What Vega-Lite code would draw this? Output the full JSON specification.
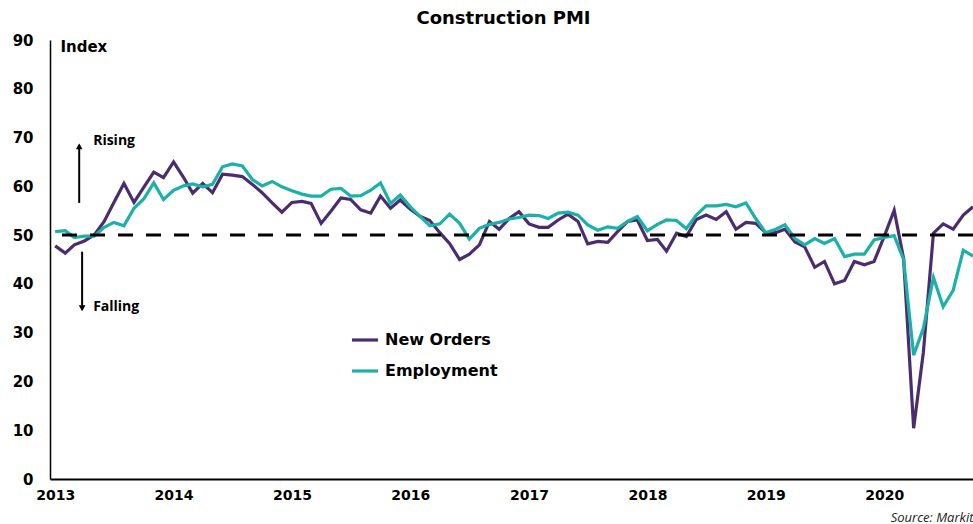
{
  "$schema": "https://vega.github.io/schema/vega-lite/v6.json",
  "width": 923,
  "height": 439,
  "autosize": {"type": "none"},
  "padding": {"left": 50, "top": 40, "right": 0, "bottom": 45},
  "background": "white",
  "title": {"text": "Construction PMI", "font": "DejaVu Sans", "fontSize": 18, "fontWeight": "bold", "color": "black", "anchor": "middle", "offset": 12, "dx": -8, "dy": 7},
  "config": {
    "view": {"stroke": null},
    "axis": {"grid": false, "domainColor": "black", "labelColor": "black"},
    "axisX": {"ticks": true, "tickSize": 0, "labelPadding": 9, "labelFlush": false, "labelFont": "DejaVu Sans", "labelFontSize": 14, "labelFontWeight": "bold", "domainWidth": 2, "titleAnchor": "end", "titleFont": "Open Sans", "titleFontStyle": "italic", "titleFontWeight": "normal", "titleFontSize": 13, "titleColor": "#222", "titlePadding": 9},
    "axisY": {"ticks": true, "tickSize": 0, "labelPadding": 17, "labelFont": "DejaVu Sans", "labelFontSize": 15, "labelFontWeight": "bold", "domainWidth": 1.5}
  },
  "layer": [
    {
      "data": {"values": [
        {"date":"2013-01-01","New Orders":47.8,"Employment":50.7},
        {"date":"2013-02-01","New Orders":46.3,"Employment":50.9},
        {"date":"2013-03-01","New Orders":48.0,"Employment":49.5},
        {"date":"2013-04-01","New Orders":48.8,"Employment":49.8},
        {"date":"2013-05-01","New Orders":50.0,"Employment":49.8},
        {"date":"2013-06-01","New Orders":52.8,"Employment":51.6},
        {"date":"2013-07-01","New Orders":56.7,"Employment":52.6},
        {"date":"2013-08-01","New Orders":60.6,"Employment":51.9},
        {"date":"2013-09-01","New Orders":56.7,"Employment":55.5},
        {"date":"2013-10-01","New Orders":59.8,"Employment":57.4},
        {"date":"2013-11-01","New Orders":62.9,"Employment":60.7},
        {"date":"2013-12-01","New Orders":61.8,"Employment":57.3},
        {"date":"2014-01-01","New Orders":65.0,"Employment":59.2},
        {"date":"2014-02-01","New Orders":61.8,"Employment":60.1},
        {"date":"2014-03-01","New Orders":58.6,"Employment":60.5},
        {"date":"2014-04-01","New Orders":60.6,"Employment":59.9},
        {"date":"2014-05-01","New Orders":58.7,"Employment":60.4},
        {"date":"2014-06-01","New Orders":62.5,"Employment":64.0},
        {"date":"2014-07-01","New Orders":62.3,"Employment":64.6},
        {"date":"2014-08-01","New Orders":62.0,"Employment":64.2},
        {"date":"2014-09-01","New Orders":60.4,"Employment":61.4},
        {"date":"2014-10-01","New Orders":58.7,"Employment":60.1},
        {"date":"2014-11-01","New Orders":56.6,"Employment":61.0},
        {"date":"2014-12-01","New Orders":54.7,"Employment":59.9},
        {"date":"2015-01-01","New Orders":56.7,"Employment":59.1},
        {"date":"2015-02-01","New Orders":56.9,"Employment":58.4},
        {"date":"2015-03-01","New Orders":56.5,"Employment":58.0},
        {"date":"2015-04-01","New Orders":52.4,"Employment":58.0},
        {"date":"2015-05-01","New Orders":54.9,"Employment":59.4},
        {"date":"2015-06-01","New Orders":57.6,"Employment":59.6},
        {"date":"2015-07-01","New Orders":57.3,"Employment":58.0},
        {"date":"2015-08-01","New Orders":55.2,"Employment":58.1},
        {"date":"2015-09-01","New Orders":54.5,"Employment":59.2},
        {"date":"2015-10-01","New Orders":58.0,"Employment":60.7},
        {"date":"2015-11-01","New Orders":55.5,"Employment":56.5},
        {"date":"2015-12-01","New Orders":57.2,"Employment":58.2},
        {"date":"2016-01-01","New Orders":55.3,"Employment":55.8},
        {"date":"2016-02-01","New Orders":53.8,"Employment":53.8},
        {"date":"2016-03-01","New Orders":53.0,"Employment":51.9},
        {"date":"2016-04-01","New Orders":50.5,"Employment":52.3},
        {"date":"2016-05-01","New Orders":48.3,"Employment":54.3},
        {"date":"2016-06-01","New Orders":45.0,"Employment":52.4},
        {"date":"2016-07-01","New Orders":46.1,"Employment":49.2},
        {"date":"2016-08-01","New Orders":48.0,"Employment":51.4},
        {"date":"2016-09-01","New Orders":52.8,"Employment":52.2},
        {"date":"2016-10-01","New Orders":51.2,"Employment":52.6},
        {"date":"2016-11-01","New Orders":53.4,"Employment":53.3},
        {"date":"2016-12-01","New Orders":54.8,"Employment":53.6},
        {"date":"2017-01-01","New Orders":52.3,"Employment":54.1},
        {"date":"2017-02-01","New Orders":51.6,"Employment":54.0},
        {"date":"2017-03-01","New Orders":51.6,"Employment":53.4},
        {"date":"2017-04-01","New Orders":53.1,"Employment":54.5},
        {"date":"2017-05-01","New Orders":54.3,"Employment":54.7},
        {"date":"2017-06-01","New Orders":52.8,"Employment":54.1},
        {"date":"2017-07-01","New Orders":48.2,"Employment":52.1},
        {"date":"2017-08-01","New Orders":48.7,"Employment":51.0},
        {"date":"2017-09-01","New Orders":48.5,"Employment":51.7},
        {"date":"2017-10-01","New Orders":50.7,"Employment":51.4},
        {"date":"2017-11-01","New Orders":52.8,"Employment":52.8},
        {"date":"2017-12-01","New Orders":53.1,"Employment":53.8},
        {"date":"2018-01-01","New Orders":48.9,"Employment":50.9},
        {"date":"2018-02-01","New Orders":49.1,"Employment":52.2},
        {"date":"2018-03-01","New Orders":46.7,"Employment":53.1},
        {"date":"2018-04-01","New Orders":50.4,"Employment":53.0},
        {"date":"2018-05-01","New Orders":49.7,"Employment":51.3},
        {"date":"2018-06-01","New Orders":53.2,"Employment":54.1},
        {"date":"2018-07-01","New Orders":54.1,"Employment":56.0},
        {"date":"2018-08-01","New Orders":53.2,"Employment":56.0},
        {"date":"2018-09-01","New Orders":54.8,"Employment":56.3},
        {"date":"2018-10-01","New Orders":51.2,"Employment":55.8},
        {"date":"2018-11-01","New Orders":52.6,"Employment":56.6},
        {"date":"2018-12-01","New Orders":52.4,"Employment":53.4},
        {"date":"2019-01-01","New Orders":50.5,"Employment":50.5},
        {"date":"2019-02-01","New Orders":50.5,"Employment":51.2},
        {"date":"2019-03-01","New Orders":51.2,"Employment":52.1},
        {"date":"2019-04-01","New Orders":48.6,"Employment":49.3},
        {"date":"2019-05-01","New Orders":47.6,"Employment":48.0},
        {"date":"2019-06-01","New Orders":43.4,"Employment":49.3},
        {"date":"2019-07-01","New Orders":44.6,"Employment":48.3},
        {"date":"2019-08-01","New Orders":40.0,"Employment":49.3},
        {"date":"2019-09-01","New Orders":40.7,"Employment":45.6},
        {"date":"2019-10-01","New Orders":44.6,"Employment":46.1},
        {"date":"2019-11-01","New Orders":43.9,"Employment":46.1},
        {"date":"2019-12-01","New Orders":44.6,"Employment":49.0},
        {"date":"2020-01-01","New Orders":49.7,"Employment":49.5},
        {"date":"2020-02-01","New Orders":55.1,"Employment":49.9},
        {"date":"2020-03-01","New Orders":45.2,"Employment":45.0},
        {"date":"2020-04-01","New Orders":10.4,"Employment":25.4},
        {"date":"2020-05-01","New Orders":26.0,"Employment":30.9},
        {"date":"2020-06-01","New Orders":50.4,"Employment":41.3},
        {"date":"2020-07-01","New Orders":52.3,"Employment":35.3},
        {"date":"2020-08-01","New Orders":51.2,"Employment":38.7},
        {"date":"2020-09-01","New Orders":54.1,"Employment":46.9},
        {"date":"2020-10-01","New Orders":55.8,"Employment":45.7}
      ]},
      "transform": [{"fold": ["New Orders", "Employment"], "as": ["series", "value"]}],
      "mark": {"type": "line", "strokeWidth": 3.2, "strokeJoin": "miter", "clip": false},
      "encoding": {
        "x": {
          "field": "date", "type": "temporal",
          "scale": {"type": "utc", "domain": [{"year": 2012, "month": 12, "date": 16, "utc": true}, {"year": 2020, "month": 10, "date": 1, "utc": true}]},
          "axis": {
            "values": [{"year":2013,"month":1,"date":1,"utc":true},{"year":2014,"month":1,"date":1,"utc":true},{"year":2015,"month":1,"date":1,"utc":true},{"year":2016,"month":1,"date":1,"utc":true},{"year":2017,"month":1,"date":1,"utc":true},{"year":2018,"month":1,"date":1,"utc":true},{"year":2019,"month":1,"date":1,"utc":true},{"year":2020,"month":1,"date":1,"utc":true}],
            "format": "%Y", "formatType": "utc",
            "title": "Source: Markit"
          }
        },
        "y": {
          "field": "value", "type": "quantitative",
          "scale": {"domain": [0, 90], "nice": false, "zero": true},
          "axis": {"values": [0,10,20,30,40,50,60,70,80,90], "title": null}
        },
        "color": {
          "field": "series", "type": "nominal",
          "scale": {"domain": ["New Orders", "Employment"], "range": ["#4a2d6f", "#1bb0a8"]},
          "legend": {
            "orient": "none", "legendX": 300, "legendY": 285, "direction": "vertical", "title": null,
            "symbolType": "stroke", "symbolStrokeWidth": 3.2, "symbolSize": 676,
            "labelFont": "DejaVu Sans", "labelFontSize": 16, "labelFontWeight": "bold", "labelColor": "black",
            "rowPadding": 8, "labelOffset": 5, "padding": 0
          }
        }
      }
    },
    {
      "data": {"values": [{"ref": 50}]},
      "mark": {"type": "rule", "color": "black", "strokeWidth": 3, "strokeDash": [15, 13]},
      "encoding": {"y": {"field": "ref", "type": "quantitative"}}
    },
    {
      "data": {"values": [
        {"date": "2013-03-16", "lo": 56.6, "hi": 68.5},
        {"date": "2013-03-25", "lo": 34.7, "hi": 46.6}
      ]},
      "mark": {"type": "rule", "color": "black", "strokeWidth": 2},
      "encoding": {
        "x": {"field": "date", "type": "temporal"},
        "y": {"field": "lo", "type": "quantitative"},
        "y2": {"field": "hi"}
      }
    },
    {
      "data": {"values": [
        {"date": "2013-03-16", "v": 68.2, "dir": "up"},
        {"date": "2013-03-25", "v": 35.0, "dir": "down"}
      ]},
      "mark": {"type": "point", "filled": true, "color": "black", "size": 45, "opacity": 1},
      "encoding": {
        "x": {"field": "date", "type": "temporal"},
        "y": {"field": "v", "type": "quantitative"},
        "shape": {"field": "dir", "type": "nominal", "scale": {"domain": ["up", "down"], "range": ["triangle-up", "triangle-down"]}, "legend": null}
      }
    },
    {
      "data": {"values": [
        {"date": "2013-04-28", "v": 69.3, "label": "Rising"},
        {"date": "2013-04-28", "v": 35.3, "label": "Falling"}
      ]},
      "mark": {"type": "text", "align": "left", "baseline": "middle", "font": "Open Sans", "fontSize": 14, "fontWeight": "bold", "color": "black"},
      "encoding": {
        "x": {"field": "date", "type": "temporal"},
        "y": {"field": "v", "type": "quantitative"},
        "text": {"field": "label"}
      }
    },
    {
      "data": {"values": [{"date": "2013-01-17", "v": 88.6, "label": "Index"}]},
      "mark": {"type": "text", "align": "left", "baseline": "middle", "font": "DejaVu Sans", "fontSize": 15, "fontWeight": "bold", "color": "black"},
      "encoding": {
        "x": {"field": "date", "type": "temporal"},
        "y": {"field": "v", "type": "quantitative"},
        "text": {"field": "label"}
      }
    }
  ]
}
